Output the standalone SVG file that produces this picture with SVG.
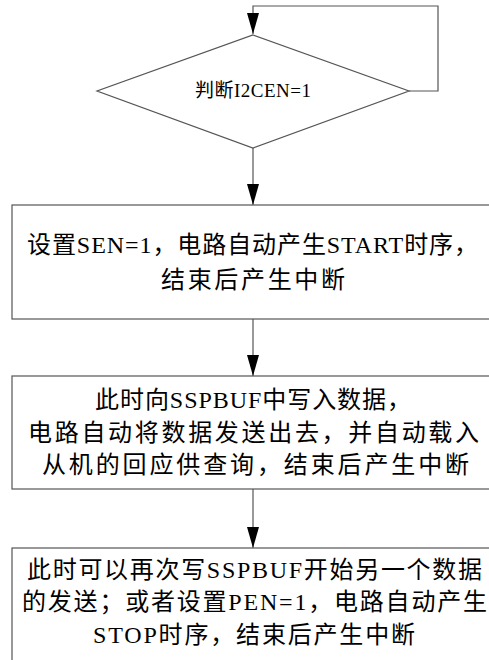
<svg xmlns="http://www.w3.org/2000/svg" width="489" height="660" viewBox="0 0 489 660">
<style>
.shape{fill:#fff;stroke:#555;stroke-width:1.2}
.conn{fill:none;stroke:#555;stroke-width:1.2}
.t{font-family:"Liberation Serif","Noto Sans CJK SC",serif;fill:#000}
.big{font-size:24px}
.small{font-size:19px}
</style>
<defs>
<marker id="arr" viewBox="0 -6 21 12" refX="21" refY="0" markerWidth="21" markerHeight="12" markerUnits="userSpaceOnUse" orient="auto">
<path d="M0,-6 L21,0 L0,6 z" fill="#000"/>
</marker>
</defs>
<rect width="489" height="660" fill="#fff"/>
<g id="connectors">
<path class="conn" d="M409,91 H438 V6 H253 V34" marker-end="url(#arr)"/>
<path class="conn" d="M253,148 V205" marker-end="url(#arr)"/>
<path class="conn" d="M253,319 V376" marker-end="url(#arr)"/>
<path class="conn" d="M253,489 V548" marker-end="url(#arr)"/>
</g>
<g id="decision">
<polygon class="shape" points="253,35 409,91 253,148 97,91"/>
<text class="t small" x="195" y="97" textLength="116" lengthAdjust="spacing">判断I2CEN=1</text>
</g>
<g id="step1">
<rect class="shape" x="12" y="205" width="490" height="114"/>
<text class="t big" x="27" y="253" textLength="451" lengthAdjust="spacing">设置SEN=1，电路自动产生START时序，</text>
<text class="t big" x="161" y="288" textLength="184" lengthAdjust="spacing">结束后产生中断</text>
</g>
<g id="step2">
<rect class="shape" x="12" y="376" width="490" height="113"/>
<text class="t big" x="95" y="408" textLength="316" lengthAdjust="spacing">此时向SSPBUF中写入数据，</text>
<text class="t big" x="28" y="441" textLength="451" lengthAdjust="spacing">电路自动将数据发送出去，并自动载入</text>
<text class="t big" x="42" y="473" textLength="427" lengthAdjust="spacing">从机的回应供查询，结束后产生中断</text>
</g>
<g id="step3">
<rect class="shape" x="12" y="548" width="490" height="130"/>
<text class="t big" x="27" y="578" textLength="455" lengthAdjust="spacing">此时可以再次写SSPBUF开始另一个数据</text>
<text class="t big" x="22" y="610" textLength="465" lengthAdjust="spacing">的发送；或者设置PEN=1，电路自动产生</text>
<text class="t big" x="93" y="643" textLength="322" lengthAdjust="spacing">STOP时序，结束后产生中断</text>
</g>
</svg>
